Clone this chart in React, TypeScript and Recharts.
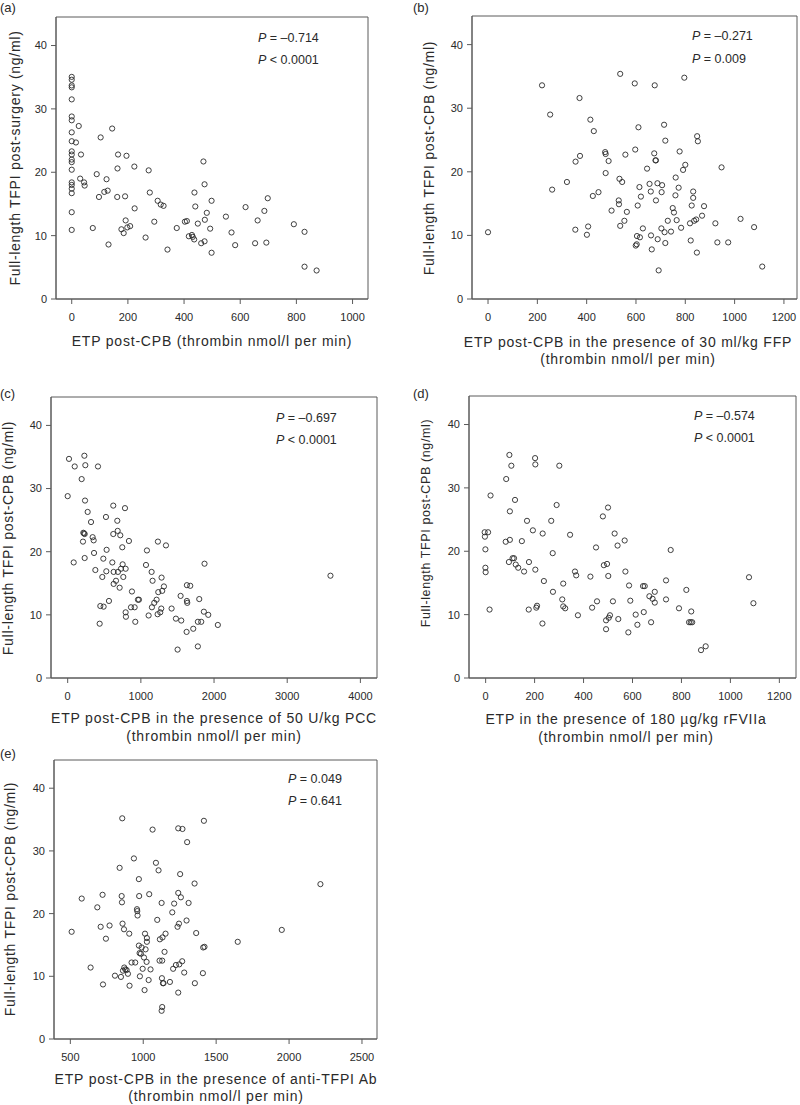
import React from 'react';
import { ScatterChart, Scatter, XAxis, YAxis, ReferenceArea } from 'recharts';

// ---- values ----
const tfpiTicks = [0, 10, 20, 30, 40];

const etpTicksA = [0, 200, 400, 600, 800, 1000];
const etpA = [
  0, 0, 0, 0, 0, 0, 0, 0, 0, 0, 0, 0, 0, 0, 0, 0, 0, 0, 0, 0,
  25, 15, 33, 30, 44, 46, 75, 89, 97, 103, 116, 124, 128, 131, 144, 162, 163, 165, 177, 185,
  190, 192, 195, 198, 208, 223, 224, 263, 274, 278, 294, 306, 317, 327, 341, 374, 403, 410, 417, 428,
  431, 436, 437, 440, 449, 461, 469, 473, 473, 474, 481, 493, 498, 498, 549, 569, 582, 619, 653, 662,
  686, 693, 698, 791, 829, 829, 872,
];
const tfpiA = [
  35.05, 34.6, 33.7, 33.4, 31.5, 28.8, 28.2, 26.3, 24.9, 23.3, 22.8, 22.0, 21.6, 20.4, 18.4, 18.0, 17.4, 16.7, 13.7, 10.9,
  27.3, 24.7, 22.8, 19.0, 18.4, 17.9, 11.2, 19.7, 16.1, 25.5, 16.9, 18.9, 17.1, 8.6, 26.9, 16.1, 20.6, 22.8, 11.0, 10.4,
  16.2, 12.4, 22.6, 11.3, 11.5, 20.9, 14.3, 9.7, 20.3, 16.8, 12.2, 15.5, 14.9, 14.7, 7.8, 11.2, 12.2, 12.3, 9.9, 10.1,
  9.8, 9.4, 16.8, 14.6, 11.9, 8.8, 21.7, 9.1, 18.1, 12.5, 13.6, 11.1, 15.5, 7.3, 13.0, 10.5, 8.5, 14.5, 8.8, 12.4,
  13.9, 8.9, 15.9, 11.8, 10.6, 5.1, 4.5,
];

const etpTicksB = [0, 200, 400, 600, 800, 1000, 1200];
const etpB = [
  0, 219, 252, 260, 320, 354, 355, 371, 373, 401, 406, 415, 425, 429, 448, 475, 477, 477, 489, 501,
  530, 531, 533, 536, 536, 544, 553, 557, 563, 595, 597, 599, 603, 604, 607, 610, 614, 616, 620, 628,
  645, 655, 660, 661, 664, 674, 676, 679, 681, 681, 687, 688, 692, 703, 704, 706, 714, 716, 719, 719,
  729, 742, 749, 754, 760, 761, 765, 773, 777, 783, 791, 796, 800, 819, 822, 826, 832, 832, 836, 844,
  847, 848, 851, 868, 876, 922, 930, 947, 974, 1024, 1079, 1112,
];
const tfpiB = [
  10.5, 33.6, 29.0, 17.2, 18.4, 10.9, 21.6, 31.6, 22.5, 10.1, 11.4, 28.2, 16.2, 26.4, 16.8, 23.1, 22.8, 19.8, 21.7, 13.9,
  15.5, 14.9, 18.9, 11.5, 35.4, 18.4, 12.3, 22.7, 13.7, 33.9, 23.5, 8.4, 8.6, 9.9, 14.7, 27.0, 17.6, 9.7, 16.1, 11.1,
  20.5, 18.1, 16.9, 10.0, 7.8, 22.9, 33.6, 21.8, 21.8, 15.5, 18.2, 9.4, 4.5, 11.1, 16.8, 17.9, 27.4, 10.5, 8.8, 24.9,
  12.3, 10.6, 14.3, 13.6, 16.3, 19.1, 12.4, 17.5, 23.2, 11.2, 20.3, 34.8, 21.1, 11.9, 9.2, 14.7, 16.9, 15.9, 12.3, 12.5,
  7.3, 25.6, 24.8, 13.1, 14.6, 11.9, 8.9, 20.7, 8.9, 12.6, 11.3, 5.1,
];

const etpTicksC = [0, 1000, 2000, 3000, 4000];
const etpC = [
  0, 18, 82, 96, 191, 209, 214, 223, 228, 232, 237, 232, 241, 273, 319, 341, 355, 360, 378, 414,
  437, 446, 473, 487, 491, 523, 528, 532, 564, 610, 623, 623, 628, 628, 660, 678, 683, 687, 710, 719,
  728, 746, 751, 760, 783, 792, 792, 796, 837, 865, 878, 915, 924, 960, 974, 1070, 1083, 1106, 1151, 1147,
  1160, 1183, 1215, 1229, 1233, 1238, 1265, 1279, 1283, 1292, 1315, 1343, 1420, 1479, 1502, 1543, 1552, 1625, 1629, 1634,
  1629, 1675, 1716, 1779, 1779, 1798, 1825, 1861, 1870, 1921, 2052, 3591,
];
const tfpiC = [
  28.8, 34.7, 18.3, 33.5, 31.5, 21.6, 23.0, 22.9, 35.2, 22.8, 28.1, 19.0, 33.7, 26.3, 24.7, 22.3, 21.8, 19.8, 17.1, 33.5,
  8.6, 11.4, 16.0, 18.9, 11.3, 25.5, 16.9, 20.3, 12.2, 18.3, 27.3, 22.8, 16.8, 14.9, 15.4, 24.9, 23.3, 16.8, 14.3, 22.6,
  17.3, 20.7, 18.0, 16.0, 26.9, 17.3, 10.4, 9.7, 21.7, 11.2, 13.7, 11.2, 8.9, 12.4, 12.4, 17.9, 20.2, 9.9, 11.2, 16.8,
  15.4, 11.9, 12.4, 10.1, 21.6, 13.6, 10.4, 11.0, 15.9, 13.8, 14.5, 21.0, 11.0, 9.4, 4.5, 13.0, 9.1, 7.3, 12.2, 11.9,
  14.7, 14.6, 7.8, 8.9, 5.0, 12.5, 8.9, 10.5, 18.1, 10.0, 8.4, 16.2,
];

const etpTicksD = [0, 200, 400, 600, 800, 1000, 1200];
const etpD = [
  -4, 10, -3, -1, -1, 0, 16, 20, 82, 84, 95, 97, 99, 99, 105, 110, 116, 120, 123, 133,
  148, 157, 169, 176, 177, 193, 202, 203, 203, 207, 210, 232, 233, 238, 268, 274, 275, 290, 301, 313,
  317, 317, 325, 345, 365, 370, 377, 428, 435, 451, 455, 479, 483, 492, 492, 496, 500, 501, 503, 508,
  520, 527, 539, 542, 568, 571, 583, 586, 591, 613, 620, 643, 650, 646, 669, 676, 682, 691, 691, 737,
  737, 756, 790, 820, 831, 838, 840, 844, 880, 899, 1076, 1094,
];
const tfpiD = [
  23.0, 23.0, 22.3, 20.3, 17.4, 16.7, 10.8, 28.8, 21.5, 31.4, 18.3, 35.2, 26.3, 21.8, 33.5, 18.9, 18.9, 28.1, 17.9, 17.4,
  21.6, 16.8, 24.8, 10.8, 18.3, 23.3, 34.7, 33.7, 17.1, 11.1, 11.4, 8.6, 22.8, 15.3, 24.8, 19.7, 13.6, 27.3, 33.5, 12.4,
  14.9, 11.3, 11.0, 22.6, 16.8, 16.2, 9.9, 16.0, 11.1, 20.6, 12.1, 25.5, 17.8, 9.1, 7.7, 18.0, 26.9, 16.1, 9.5, 9.9,
  12.1, 22.8, 20.9, 9.3, 21.7, 16.8, 7.2, 14.6, 12.2, 10.0, 8.4, 14.5, 14.5, 10.4, 12.9, 8.8, 12.5, 13.6, 11.9, 15.4,
  12.4, 20.2, 11.0, 13.9, 8.8, 8.8, 10.5, 8.8, 4.4, 5.0, 15.9, 11.8,
];

const etpTicksE = [500, 1000, 1500, 2000, 2500];
const etpE = [
  509, 578, 639, 685, 708, 721, 724, 744, 769, 806, 838, 847, 852, 854, 856, 858, 861, 868, 870, 877,
  886, 895, 904, 906, 920, 936, 945, 957, 959, 961, 970, 970, 972, 975, 977, 984, 989, 996, 1005, 1009,
  1012, 1016, 1023, 1025, 1025, 1037, 1041, 1050, 1064, 1087, 1096, 1105, 1112, 1114, 1126, 1128, 1130, 1130, 1126, 1132,
  1135, 1139, 1146, 1153, 1183, 1199, 1205, 1212, 1224, 1235, 1240, 1240, 1240, 1245, 1247, 1253, 1258, 1267, 1269, 1281,
  1297, 1301, 1311, 1352, 1354, 1363, 1409, 1411, 1420, 1416, 1648, 1950, 2215,
];
const tfpiE = [
  17.1, 22.4, 11.4, 21.0, 17.9, 23.0, 8.7, 16.0, 18.1, 10.1, 27.3, 9.9, 22.8, 21.8, 35.2, 18.4, 10.9, 17.5, 11.4, 11.1,
  11.0, 10.4, 16.8, 8.5, 12.2, 28.8, 12.2, 20.7, 20.4, 19.7, 25.5, 14.9, 22.8, 13.7, 10.0, 13.6, 14.6, 11.2, 13.0, 7.8,
  16.8, 14.3, 12.3, 16.1, 15.5, 9.4, 23.1, 11.1, 33.4, 28.1, 19.0, 26.9, 12.5, 15.9, 21.7, 9.7, 12.5, 5.1, 4.5, 16.2,
  8.9, 8.9, 13.9, 16.8, 9.1, 20.2, 11.2, 21.6, 11.8, 17.9, 33.6, 23.3, 7.4, 18.4, 11.9, 26.3, 22.6, 12.4, 33.5, 10.6,
  18.9, 31.4, 21.7, 24.8, 8.9, 16.9, 10.5, 14.6, 14.7, 34.8, 15.5, 17.4, 24.7,
];

const FONT = '"Liberation Sans", Arial, Helvetica, sans-serif';
const INK = '#2a2a2a';
const FRAME = '#5a5a5a';
const Y_MAX = 44.5;
const YW = 50; // y axis width
const XH = 30; // x axis height
const TM = 6;
const RM = 4;

const toPoints = (xs: number[], ys: number[]) => xs.map((x, i) => ({ x, y: ys[i] }));

const Ring = (props: any) => {
  if (props.cx == null || props.cy == null) return null;
  return <circle cx={props.cx} cy={props.cy} r={2.6} fill="none" stroke={INK} strokeWidth={0.9} />;
};

type PanelProps = {
  letter: string;
  letterPos: [number, number];
  plot: { l: number; r: number; t: number; b: number };
  xDomain: [number, number];
  xTicks: number[];
  xs: number[];
  ys: number[];
  xTitle: string[];
  xTitleCx: number;
  xTitleY: number[];
  yTitle: string;
  yTitlePos: [number, number];
  yTitleScale?: number;
  stats: [string, string];
  statsPos: [number, number, number];
};

const Panel = (p: PanelProps) => {
  const w = p.plot.r - p.plot.l + YW + RM;
  const h = p.plot.b - p.plot.t + TM + XH;
  const data = toPoints(p.xs, p.ys);
  const ys = p.yTitleScale ?? 1;
  return (
    <>
      <div style={{ position: 'absolute', left: p.plot.l - YW, top: p.plot.t - TM }}>
        <ScatterChart width={w} height={h} margin={{ top: TM, right: RM, left: 0, bottom: 0 }}>
          <XAxis
            type="number"
            dataKey="x"
            domain={p.xDomain}
            ticks={p.xTicks}
            allowDataOverflow
            height={XH}
            tickSize={5}
            tickMargin={9}
            stroke={FRAME}
            tick={{ fill: INK, fontSize: 11, fontFamily: FONT }}
          />
          <YAxis
            type="number"
            dataKey="y"
            domain={[0, Y_MAX]}
            ticks={tfpiTicks}
            allowDataOverflow
            width={YW}
            tickSize={5}
            tickMargin={4}
            stroke={FRAME}
            tick={{ fill: INK, fontSize: 11, fontFamily: FONT }}
          />
          <ReferenceArea
            x1={p.xDomain[0]}
            x2={p.xDomain[1]}
            y1={0}
            y2={Y_MAX}
            fill="none"
            fillOpacity={0}
            stroke={FRAME}
            strokeWidth={1}
          />
          <Scatter data={data} shape={Ring} isAnimationActive={false} />
        </ScatterChart>
      </div>
      <div style={{ position: 'absolute', left: p.letterPos[0], top: p.letterPos[1], transform: 'translateY(-50%)', fontSize: 13, color: INK, lineHeight: 1 }}>
        {p.letter}
      </div>
      {p.xTitle.map((line, i) => (
        <div
          key={i}
          style={{
            position: 'absolute',
            left: p.xTitleCx,
            top: p.xTitleY[i],
            transform: 'translate(-50%, -50%)',
            whiteSpace: 'nowrap',
            fontSize: 14,
            letterSpacing: 0.8,
            lineHeight: 1,
            color: INK,
          }}
        >
          {line}
        </div>
      ))}
      <div
        style={{
          position: 'absolute',
          left: p.yTitlePos[0],
          top: p.yTitlePos[1],
          transform: 'translate(-50%, -50%) rotate(-90deg)',
          whiteSpace: 'nowrap',
          fontSize: 14 * ys,
          letterSpacing: 0.72 * ys,
          lineHeight: 1,
          color: INK,
        }}
      >
        {p.yTitle}
      </div>
      {p.stats.map((s, i) => (
        <div
          key={'s' + i}
          style={{
            position: 'absolute',
            left: p.statsPos[0],
            top: p.statsPos[1 + i],
            transform: 'translateY(-50%)',
            whiteSpace: 'nowrap',
            fontSize: 12.5,
            lineHeight: 1,
            color: INK,
          }}
        >
          <i>P</i>
          {s}
        </div>
      ))}
    </>
  );
};

const App = () => {
  return (
    <div style={{ position: 'absolute', left: 0, top: 0, width: 800, height: 1105, background: '#fff', fontFamily: FONT }}>
      <Panel
        letter="(a)"
        letterPos={[0, 7]}
        plot={{ l: 56, r: 368, t: 17, b: 299 }}
        xDomain={[-56, 1055]}
        xTicks={etpTicksA}
        xs={etpA}
        ys={tfpiA}
        xTitle={['ETP post-CPB (thrombin nmol/l per min)']}
        xTitleCx={212}
        xTitleY={[341]}
        yTitle="Full-length TFPI post-surgery (ng/ml)"
        yTitlePos={[15, 158]}
        stats={[' = \u20130.714', ' < 0.0001']}
        statsPos={[258, 38, 60]}
      />
      <Panel
        letter="(b)"
        letterPos={[413, 7]}
        plot={{ l: 472, r: 797, t: 16, b: 299 }}
        xDomain={[-65, 1253]}
        xTicks={etpTicksB}
        xs={etpB}
        ys={tfpiB}
        xTitle={['ETP post-CPB in the presence of 30 ml/kg FFP', '(thrombin nmol/l per min)']}
        xTitleCx={628}
        xTitleY={[342, 359]}
        yTitle="Full-length TFPI post-CPB (ng/ml)"
        yTitlePos={[429, 158]}
        stats={[' = \u20130.271', ' = 0.009']}
        statsPos={[692, 36, 59]}
      />
      <Panel
        letter="(c)"
        letterPos={[0, 393]}
        plot={{ l: 51, r: 377, t: 397, b: 678 }}
        xDomain={[-228, 4227]}
        xTicks={etpTicksC}
        xs={etpC}
        ys={tfpiC}
        xTitle={['ETP post-CPB in the presence of 50 U/kg PCC', '(thrombin nmol/l per min)']}
        xTitleCx={214}
        xTitleY={[718, 736]}
        yTitle="Full-length TFPI post-CPB (ng/ml)"
        yTitlePos={[8, 538]}
        stats={[' = \u20130.697', ' < 0.0001']}
        statsPos={[276, 418, 440]}
      />
      <Panel
        letter="(d)"
        letterPos={[413, 393]}
        plot={{ l: 469, r: 796, t: 396, b: 678 }}
        xDomain={[-68, 1268]}
        xTicks={etpTicksD}
        xs={etpD}
        ys={tfpiD}
        xTitle={['ETP in the presence of 180 \u00b5g/kg rFVIIa', '(thrombin nmol/l per min)']}
        xTitleCx={626}
        xTitleY={[719, 737]}
        yTitle="Full-length TFPI post-CPB (ng/ml)"
        yTitlePos={[426, 523]}
        yTitleScale={0.89}
        stats={[' = \u20130.574', ' < 0.0001']}
        statsPos={[694, 416, 438]}
      />
      <Panel
        letter="(e)"
        letterPos={[0, 753]}
        plot={{ l: 54, r: 377, t: 760, b: 1039 }}
        xDomain={[388, 2603]}
        xTicks={etpTicksE}
        xs={etpE}
        ys={tfpiE}
        xTitle={['ETP post-CPB in the presence of anti-TFPI Ab', '(thrombin nmol/l per min)']}
        xTitleCx={216}
        xTitleY={[1079, 1096]}
        yTitle="Full-length TFPI post-CPB (ng/ml)"
        yTitlePos={[10, 899]}
        stats={[' = 0.049', ' = 0.641']}
        statsPos={[288, 779, 801]}
      />
    </div>
  );
};

export default App;
